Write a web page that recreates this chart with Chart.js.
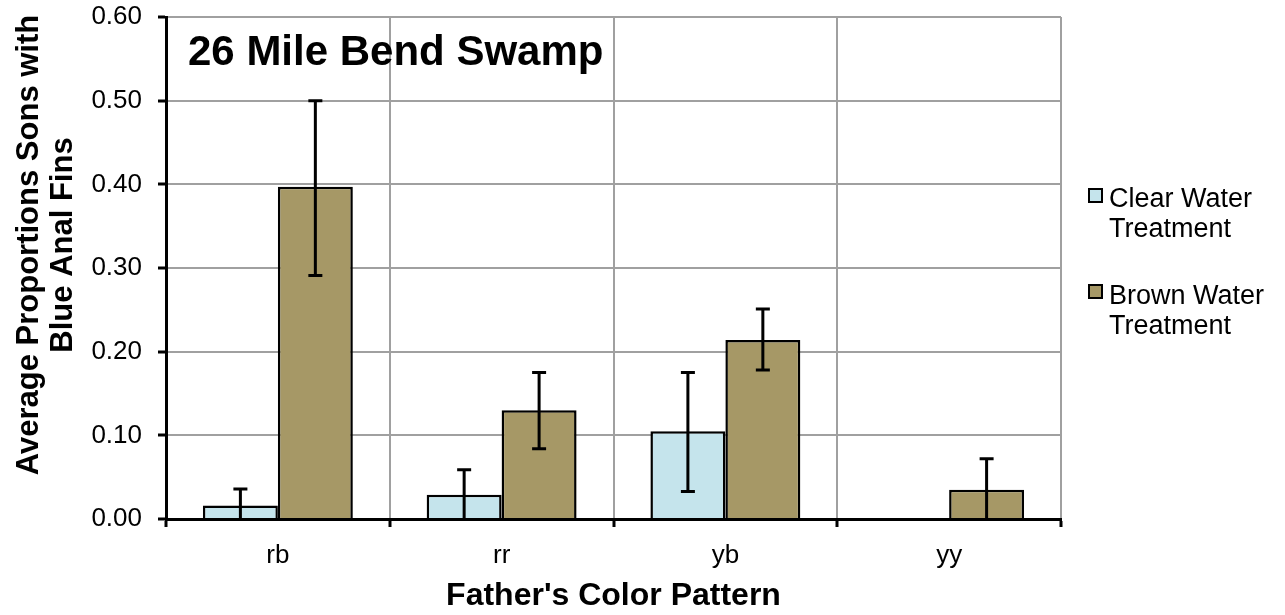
<!DOCTYPE html>
<html>
<head>
<meta charset="utf-8">
<script src="https://cdn.jsdelivr.net/npm/chart.js@4.4.1/dist/chart.umd.min.js"></script>
<style>
  html, body { margin: 0; padding: 0; background: #ffffff; }
  #wrap { position: relative; width: 1285px; height: 615px; }
</style>
</head>
<body>
<div id="wrap"><canvas id="c" width="1285" height="615"></canvas></div>
<script>
const categories = ["rb", "rr", "yb", "yy"];
const seriesNames = ["Clear Water Treatment", "Brown Water Treatment"];
const clearValues = [0.016, 0.029, 0.105, 0];
const brownValues = [0.397, 0.130, 0.214, 0.035];
const clearErrHigh = [0.036, 0.059, 0.175, null];
const clearErrLow = [0.0, 0.0, 0.033, null];
const brownErrHigh = [0.500, 0.175, 0.251, 0.072];
const brownErrLow = [0.291, 0.084, 0.178, 0.0];
const yTicks = [0, 0.1, 0.2, 0.3, 0.4, 0.5, 0.6];
const chartTitle = "26 Mile Bend Swamp";
const yTitle = ["Average Proportions Sons with", "Blue Anal Fins"];
const xTitle = "Father's Color Pattern";

const FONT = '"Liberation Sans", Arial, sans-serif';
const CLEAR_COLOR = '#c5e4ec';
const BROWN_COLOR = '#a69866';

const errorBars = {
  id: 'errorBars',
  afterDatasetsDraw(chart) {
    const ctx = chart.ctx;
    const y = chart.scales.y;
    const lows = [clearErrLow, brownErrLow];
    const highs = [clearErrHigh, brownErrHigh];
    ctx.save();
    ctx.strokeStyle = '#000';
    ctx.lineWidth = 3;
    chart.data.datasets.forEach((ds, di) => {
      const meta = chart.getDatasetMeta(di);
      meta.data.forEach((bar, i) => {
        const hi = highs[di][i], lo = lows[di][i];
        if (hi == null || lo == null) return;
        const x = bar.x;
        const yh = y.getPixelForValue(hi);
        const yl = y.getPixelForValue(lo);
        ctx.beginPath();
        ctx.moveTo(x, yh); ctx.lineTo(x, yl);
        ctx.moveTo(x - 7, yh); ctx.lineTo(x + 7, yh);
        if (lo > 0) { ctx.moveTo(x - 7, yl); ctx.lineTo(x + 7, yl); }
        ctx.stroke();
      });
    });
    ctx.restore();
  }
};

const extras = {
  id: 'extras',
  afterDraw(chart) {
    const ctx = chart.ctx;
    const area = chart.chartArea;
    ctx.save();
    ctx.fillStyle = '#000';
    ctx.font = 'bold 42px ' + FONT;
    ctx.textAlign = 'left';
    ctx.textBaseline = 'alphabetic';
    ctx.fillText(chartTitle, area.left + 22, 65);
    ctx.font = 'bold 31px ' + FONT;
    ctx.textAlign = 'center';
    const cy = 245;
    yTitle.forEach((line, i) => {
      ctx.save();
      ctx.translate(38 + i * 34, cy);
      ctx.rotate(-Math.PI / 2);
      ctx.fillText(line, 0, 0);
      ctx.restore();
    });
    const legend = [
      { color: CLEAR_COLOR, lines: ["Clear Water", "Treatment"], boxY: 189, baseY: 207 },
      { color: BROWN_COLOR, lines: ["Brown Water", "Treatment"], boxY: 285, baseY: 304 }
    ];
    ctx.font = '27px ' + FONT;
    ctx.textAlign = 'left';
    legend.forEach((item) => {
      ctx.fillStyle = item.color;
      ctx.fillRect(1089, item.boxY, 13, 13);
      ctx.strokeStyle = '#000';
      ctx.lineWidth = 2;
      ctx.strokeRect(1089, item.boxY, 13, 13);
      ctx.fillStyle = '#000';
      item.lines.forEach((t, j) => ctx.fillText(t, 1109, item.baseY + j * 30));
    });
    ctx.restore();
  }
};

new Chart(document.getElementById('c'), {
  type: 'bar',
  data: {
    labels: categories,
    datasets: [
      { label: seriesNames[0], data: clearValues, backgroundColor: CLEAR_COLOR,
        borderColor: '#000', borderWidth: 2.5, barPercentage: 1.0, categoryPercentage: 0.67 },
      { label: seriesNames[1], data: brownValues, backgroundColor: BROWN_COLOR,
        borderColor: '#000', borderWidth: 2.5, barPercentage: 1.0, categoryPercentage: 0.67 }
    ]
  },
  options: {
    responsive: false,
    animation: false,
    events: [],
    layout: { padding: { top: 17, right: 224, left: 0, bottom: 0 } },
    plugins: { legend: { display: false }, tooltip: { enabled: false }, title: { display: false } },
    scales: {
      x: {
        grid: { color: '#a0a0a0', lineWidth: 2, tickColor: '#000', tickWidth: 3, tickLength: 8, offset: true },
        border: { color: '#000', width: 3 },
        ticks: { color: '#000', font: { size: 26, family: FONT }, padding: 13, maxRotation: 0 },
        title: { display: true, text: xTitle, color: '#000', font: { size: 32, weight: 'bold', family: FONT }, padding: { top: 0, bottom: 0 } },
        afterFit(scale) { scale.height = 96; scale.paddingLeft = 0; scale.paddingRight = 0; }
      },
      y: {
        min: 0, max: 0.6,
        afterBuildTicks(scale) { scale.ticks = yTicks.map(v => ({ value: v })); },
        grid: { color: '#a0a0a0', lineWidth: 2, tickColor: '#000', tickWidth: 3, tickLength: 8 },
        border: { color: '#000', width: 3 },
        ticks: { color: '#000', font: { size: 26, family: FONT }, padding: 16,
          callback: (v) => Number(v).toFixed(2) },
        afterFit(scale) { scale.width = 166; scale.paddingTop = 0; scale.paddingBottom = 0; }
      }
    }
  },
  plugins: [errorBars, extras]
});
</script>
</body>
</html>
